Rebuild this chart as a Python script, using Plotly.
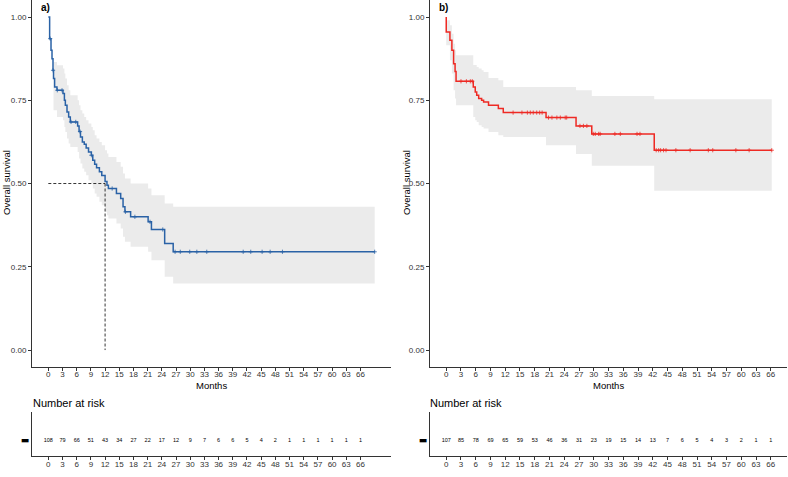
import plotly.graph_objects as go

# ---------------- data ----------------
# Panel a) (blue)
t_a = [0, 0.28, 0.57, 0.78, 0.99, 1.1, 1.33, 1.83, 3.1, 3.4, 3.6, 3.95, 4.3, 4.65, 6.2, 6.5, 6.8, 7.2,
       7.6, 8.0, 8.5, 9.1, 9.4, 9.8, 10.2, 10.8, 11.3, 12.0, 12.4, 12.7, 14.4, 15.3, 15.8, 16.2, 17.4,
       21.1, 21.8, 24.6, 26.4]
s_a = [1.0, 0.935, 0.90, 0.875, 0.84, 0.815, 0.79, 0.78, 0.77, 0.75, 0.735, 0.715, 0.70, 0.685, 0.673,
       0.656, 0.64, 0.625, 0.618, 0.607, 0.595, 0.585, 0.57, 0.558, 0.547, 0.535, 0.524, 0.506, 0.495,
       0.485, 0.47, 0.455, 0.43, 0.415, 0.40, 0.385, 0.362, 0.32, 0.295]
lo_a = [1.0, 0.935, 0.90, 0.875, 0.84, 0.72, 0.72, 0.70, 0.69, 0.67, 0.655, 0.635, 0.62, 0.61, 0.595,
        0.575, 0.56, 0.545, 0.535, 0.525, 0.51, 0.50, 0.485, 0.47, 0.46, 0.445, 0.435, 0.415, 0.405,
        0.395, 0.38, 0.365, 0.34, 0.325, 0.31, 0.295, 0.27, 0.22, 0.20]
hi_a = [1.0, 0.935, 0.90, 0.875, 0.84, 0.865, 0.865, 0.855, 0.845, 0.83, 0.815, 0.795, 0.78, 0.765, 0.75,
        0.735, 0.72, 0.71, 0.70, 0.69, 0.68, 0.67, 0.66, 0.645, 0.635, 0.625, 0.615, 0.60, 0.59, 0.58,
        0.565, 0.55, 0.53, 0.515, 0.50, 0.485, 0.465, 0.44, 0.43]
end_a = 69.0
cens_a = [0.4, 1.0, 1.9, 2.9, 4.8, 5.8, 6.7, 9.1, 13.5, 16.3, 18.3, 21.5, 24.2, 26.8, 27.9, 29.9, 31.4,
          33.5, 41.2, 42.8, 45.2, 46.9, 49.5, 69.0]
median_a = 12.0
risk_a = [108, 79, 66, 51, 43, 34, 27, 22, 17, 12, 9, 7, 6, 6, 5, 4, 2, 1, 1, 1, 1, 1, 1]

# Panel b) (red)
t_b = [0, 0.75, 1.15, 1.5, 1.8, 2.0, 5.5, 5.9, 6.2, 6.6, 7.2, 7.6, 8.6, 10.6, 11.6, 20.3, 26.4, 29.6, 42.3]
s_b = [0.955, 0.93, 0.90, 0.86, 0.836, 0.807, 0.79, 0.775, 0.765, 0.755, 0.75, 0.745, 0.735, 0.725,
       0.713, 0.698, 0.673, 0.649, 0.60]
lo_b = [0.915, 0.87, 0.83, 0.78, 0.755, 0.735, 0.70, 0.69, 0.685, 0.675, 0.67, 0.665, 0.655, 0.645,
        0.64, 0.615, 0.589, 0.553, 0.478]
hi_b = [0.99, 0.975, 0.95, 0.92, 0.90, 0.885, 0.856, 0.856, 0.85, 0.845, 0.84, 0.835, 0.817, 0.81,
        0.79, 0.79, 0.78, 0.763, 0.753]
end_b = 66.2
cens_b = [3.0, 4.1, 4.9, 5.3, 13.6, 15.4, 16.5, 17.1, 17.7, 18.4, 19.0, 19.5, 20.8, 21.5, 22.5, 23.2,
          24.2, 24.5, 27.2, 27.9, 28.6, 29.9, 30.3, 31.0, 31.3, 34.3, 35.4, 38.8, 39.4, 42.7, 43.2, 43.6,
          44.2, 44.7, 46.7, 49.6, 53.3, 54.2, 58.9, 61.6, 66.2]
risk_b = [107, 85, 78, 69, 65, 59, 53, 46, 36, 31, 23, 19, 15, 14, 13, 7, 6, 5, 4, 3, 2, 1, 1]

ticks = list(range(0, 67, 3))
y_ticks = [0, 0.25, 0.5, 0.75, 1.0]
y_tick_labels = ["0.00", "0.25", "0.50", "0.75", "1.00"]

# ---------------- style ----------------
W, H = 788, 477
FONT = "Liberation Sans, Arial, sans-serif"
BLUE = "#2A62A6"
RED = "#EE2A24"
BAND = "#EBEBEB"
AX = "#333333"


def step_value(ts, ss, x, start=1.0):
    v = start
    for t, s in zip(ts, ss):
        if t <= x:
            v = s
    return v


fig = go.Figure()


def add_panel(ts, ss, lo, hi, end, cens, color, xa, ya, start_one):
    xs = list(ts) + [end]
    if start_one:
        ys = list(ss) + [ss[-1]]
    else:
        xs = [0] + xs
        ys = [1.0] + list(ss) + [ss[-1]]
    lo_x = list(ts) + [end]
    lo_y = list(lo) + [lo[-1]]
    hi_y = list(hi) + [hi[-1]]
    fig.add_trace(go.Scatter(x=lo_x, y=lo_y, mode="lines", line=dict(width=0, shape="hv"),
                             hoverinfo="skip", showlegend=False, xaxis=xa, yaxis=ya))
    fig.add_trace(go.Scatter(x=lo_x, y=hi_y, mode="lines", line=dict(width=0, shape="hv"),
                             fill="tonexty", fillcolor=BAND, hoverinfo="skip",
                             showlegend=False, xaxis=xa, yaxis=ya))
    fig.add_trace(go.Scatter(x=xs, y=ys, mode="lines", line=dict(color=color, width=1.5, shape="hv"),
                             showlegend=False, xaxis=xa, yaxis=ya))
    cy = [step_value(ts, ss, c) for c in cens]
    fig.add_trace(go.Scatter(x=cens, y=cy, mode="markers",
                             marker=dict(symbol="cross-thin", size=3, line=dict(color=color, width=0.8)),
                             showlegend=False, xaxis=xa, yaxis=ya))


add_panel(t_a, s_a, lo_a, hi_a, end_a, cens_a, BLUE, "x", "y", True)
add_panel(t_b, s_b, lo_b, hi_b, end_b, cens_b, RED, "x2", "y2", False)

# median lines panel a
fig.add_trace(go.Scatter(x=[0, median_a], y=[0.5, 0.5], mode="lines",
                         line=dict(color="black", width=0.8, dash="3px,2px"), showlegend=False,
                         xaxis="x", yaxis="y"))
fig.add_trace(go.Scatter(x=[median_a, median_a], y=[0.5, 0], mode="lines",
                         line=dict(color="black", width=0.8, dash="3px,2px"), showlegend=False,
                         xaxis="x", yaxis="y"))

# risk tables
fig.add_trace(go.Scatter(x=ticks, y=[0.36] * len(ticks), mode="text", text=[str(v) for v in risk_a],
                         textfont=dict(size=5.5, color="black", family=FONT), showlegend=False,
                         xaxis="x3", yaxis="y3"))
fig.add_trace(go.Scatter(x=ticks, y=[0.36] * len(ticks), mode="text", text=[str(v) for v in risk_b],
                         textfont=dict(size=5.5, color="black", family=FONT), showlegend=False,
                         xaxis="x4", yaxis="y4"))


def px_x(p):
    return p / W


def px_y(p):
    return 1 - p / H


dom_xa = [px_x(32), px_x(391)]
dom_xb = [px_x(430), px_x(787)]
dom_top = [px_y(366.7), px_y(0.35)]
dom_risk = [px_y(456), px_y(412)]

xcommon = dict(showline=True, linecolor=AX, linewidth=1, ticks="outside", ticklen=3, tickcolor=AX,
               tickwidth=0.8, tickmode="array", tickvals=ticks, ticktext=[str(t) for t in ticks],
               tickfont=dict(size=8, color="#333333", family=FONT), showgrid=False, zeroline=False,
               automargin=False, ticklabelstandoff=-3)
ycommon = dict(showline=True, linecolor=AX, linewidth=1, ticks="outside", ticklen=3, tickcolor=AX,
               tickwidth=0.8, tickmode="array", tickvals=y_ticks, ticktext=y_tick_labels,
               tickfont=dict(size=8, color="#333333", family=FONT), showgrid=False, zeroline=False,
               range=[-0.05, 1.05], automargin=False)
yrisk = dict(showline=True, linecolor=AX, linewidth=1, ticks="", tickmode="array", tickvals=[0.36],
             ticktext=["\u25ac"], tickfont=dict(size=9, color="black", family="DejaVu Sans"),
             showgrid=False, zeroline=False, range=[0, 1], domain=dom_risk, automargin=False)

fig.update_layout(
    width=W, height=H, margin=dict(l=0, r=0, t=0, b=0, autoexpand=False), autosize=False,
    paper_bgcolor="white", plot_bgcolor="white",
    font=dict(family=FONT),
    xaxis=dict(xcommon, domain=dom_xa, range=[-3.45, 72.45], anchor="y"),
    yaxis=dict(ycommon, domain=dom_top, anchor="x"),
    xaxis2=dict(xcommon, domain=dom_xb, range=[-3.3, 69.3], anchor="y2"),
    yaxis2=dict(ycommon, domain=dom_top, anchor="x2"),
    xaxis3=dict(xcommon, domain=dom_xa, range=[-3.45, 72.45], anchor="y3"),
    yaxis3=dict(yrisk, anchor="x3"),
    xaxis4=dict(xcommon, domain=dom_xb, range=[-3.3, 69.3], anchor="y4"),
    yaxis4=dict(yrisk, anchor="x4"),
)

ann = []
for cx, lab in [(211, "Months"), (608, "Months")]:
    ann.append(dict(x=px_x(cx), y=px_y(385.5), xref="paper", yref="paper", text=lab, showarrow=False,
                    font=dict(size=9.5, color="black", family=FONT), xanchor="center", yanchor="middle"))
for cx in [6, 406]:
    ann.append(dict(x=px_x(cx), y=px_y(183), xref="paper", yref="paper", text="Overall survival",
                    showarrow=False, textangle=-90,
                    font=dict(size=9.5, color="black", family=FONT), xanchor="center", yanchor="middle"))
for cx in [31, 428]:
    ann.append(dict(x=px_x(cx), y=px_y(403), xref="paper", yref="paper", text="Number at risk",
                    showarrow=False, font=dict(size=11, color="black", family=FONT),
                    xanchor="left", yanchor="middle"))
for cx, lab in [(39, "a)"), (437, "b)")]:
    ann.append(dict(x=px_x(cx), y=px_y(7), xref="paper", yref="paper", text="<b>" + lab + "</b>",
                    showarrow=False, font=dict(size=10, color="black", family=FONT),
                    xanchor="left", yanchor="middle"))
fig.update_layout(annotations=ann)

fig.write_html("out.html", config={"displayModeBar": False},
               post_script="document.body.style.margin='0';document.body.style.padding='0';"
                           "document.body.style.overflow='hidden';")
